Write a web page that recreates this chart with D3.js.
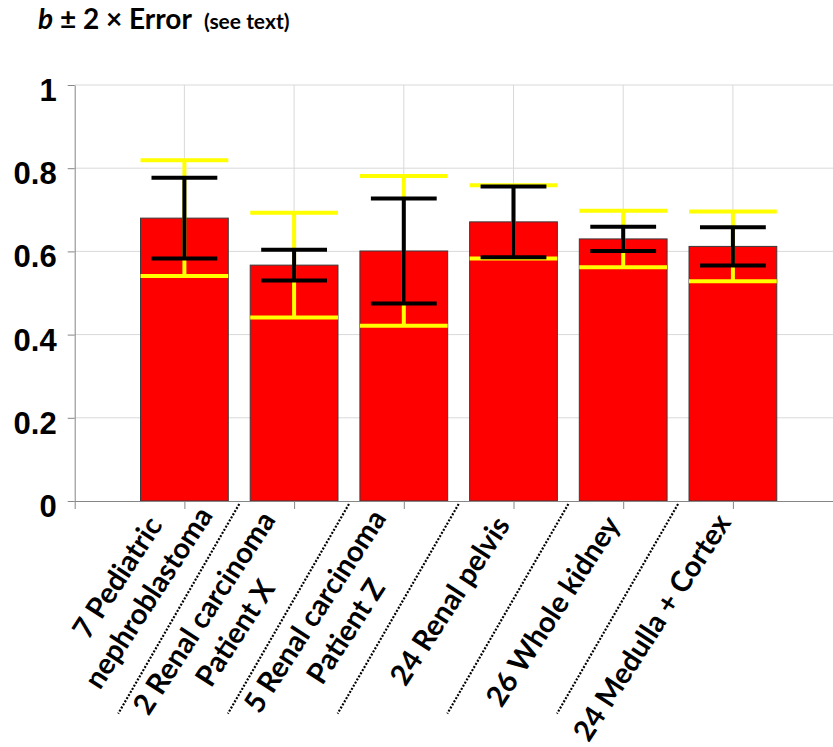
<!DOCTYPE html>
<html><head><meta charset="utf-8">
<script src="https://cdn.jsdelivr.net/npm/d3@7"></script>
<style>html,body{margin:0;padding:0;background:#fff;} svg{display:block}</style>
</head><body>
<svg id="chart" width="833" height="747"></svg>
<script>
// ---------- data ----------
const categories = [
  ["7 Pediatric", "nephroblastoma"],
  ["2 Renal carcinoma", "Patient X"],
  ["5 Renal carcinoma", "Patient Z"],
  ["24 Renal pelvis"],
  ["26 Whole kidney"],
  ["24 Medulla + Cortex"]
];
const bValues    = [0.680, 0.567, 0.601, 0.671, 0.630, 0.612];
const twoErrHalf = [0.139, 0.126, 0.180, 0.088, 0.068, 0.084];  // yellow: ± 2 × Error
const errHalf    = [0.097, 0.037, 0.126, 0.085, 0.029, 0.046];  // black bars
const yTicks      = [0, 0.2, 0.4, 0.6, 0.8, 1];
const yTickLabels = ["0", "0.2", "0.4", "0.6", "0.8", "1"];

// ---------- layout ----------
const plotLeft = 74.7, plotRight = 842.6, plotTop = 85, plotBottom = 501;
const labelAngle = -57;
const labelEndShift = [25, -4.5, -2.5, -0.5, 0, 2.5];
const gridColor = "#d9d9d9", axisColor = "#868686";

const svg = d3.select("#chart");
const x = d3.scaleLinear().domain([0, 7]).range([plotLeft, plotRight]);
const y = d3.scaleLinear().domain([0, 1]).range([plotBottom, plotTop]);
const idx = d3.range(categories.length);
const unit = x(1) - x(0);

// gridlines
svg.append("g").selectAll("line").data(yTicks.filter(d => d > 0)).join("line")
  .attr("x1", plotLeft).attr("x2", plotRight)
  .attr("y1", d => y(d)).attr("y2", d => y(d))
  .attr("stroke", gridColor).attr("stroke-width", 1);
svg.append("g").selectAll("line").data(idx).join("line")
  .attr("x1", i => x(i + 1)).attr("x2", i => x(i + 1))
  .attr("y1", y(1)).attr("y2", y(0))
  .attr("stroke", gridColor).attr("stroke-width", 1);

// bars
const bw = 0.8 * unit;
svg.append("g").selectAll("rect").data(idx).join("rect")
  .attr("x", i => x(i + 1) - bw / 2)
  .attr("width", bw)
  .attr("y", i => y(bValues[i]))
  .attr("height", i => y(0) - y(bValues[i]))
  .attr("fill", "#ff0000")
  .attr("stroke", "#3a3a3a").attr("stroke-width", 1);

// error bars
function errBars(half, color, capHalf, sw) {
  const g = svg.append("g").attr("stroke", color).attr("stroke-width", sw);
  g.selectAll("line.v").data(idx).join("line").attr("class", "v")
    .attr("x1", i => x(i + 1)).attr("x2", i => x(i + 1))
    .attr("y1", i => y(bValues[i] - half[i])).attr("y2", i => y(bValues[i] + half[i]));
  [-1, 1].forEach(s => {
    const cls = "c" + (s > 0 ? "t" : "b");
    g.selectAll("line." + cls).data(idx).join("line").attr("class", cls)
      .attr("x1", i => x(i + 1) - capHalf * unit).attr("x2", i => x(i + 1) + capHalf * unit)
      .attr("y1", i => y(bValues[i] + s * half[i])).attr("y2", i => y(bValues[i] + s * half[i]));
  });
}
errBars(twoErrHalf, "#ffff00", 0.4, 4);
errBars(errHalf, "#000000", 0.3, 4);

// y axis
const yAxis = svg.append("g").attr("transform", `translate(${plotLeft},0)`)
  .call(d3.axisLeft(y).tickValues(yTicks).tickFormat((d, i) => yTickLabels[i])
        .tickSize(7).tickSizeOuter(0).tickPadding(11));
yAxis.selectAll("path,line").attr("stroke", axisColor);
yAxis.selectAll("text").attr("dy", "0.5em")
  .style("font-family", "'Liberation Sans', Arial, sans-serif")
  .style("font-weight", "bold").style("font-size", "31px").attr("fill", "#000");

// x axis
const xAxis = svg.append("g").attr("transform", `translate(0,${plotBottom})`)
  .call(d3.axisBottom(x).tickValues(d3.range(0, 7)).tickFormat("")
        .tickSize(8).tickSizeOuter(0));
xAxis.selectAll("path,line").attr("stroke", axisColor);

// dotted separators
const sepLen = 242;
svg.append("g").selectAll("line").data(d3.range(1.5, 6, 1)).join("line")
  .attr("x1", d => x(d)).attr("y1", plotBottom + 3)
  .attr("x2", d => x(d) - sepLen * Math.cos(Math.PI / 3))
  .attr("y2", plotBottom + 3 + sepLen * Math.sin(Math.PI / 3))
  .attr("stroke", "#000").attr("stroke-width", 2.2).attr("stroke-dasharray", "2 1.6");

// category labels
const labelFont = "Lato, 'Open Sans', sans-serif";
const calib = [["nephroblastoma", 214], ["2 Renal carcinoma", 236], ["24 Renal pelvis", 193], ["24 Medulla + Cortex", 258]];
let measured = 0;
calib.forEach(([t]) => {
  const p = svg.append("text").text(t)
    .style("font-family", labelFont).style("font-weight", "bold").style("font-size", "29px");
  measured += p.node().getComputedTextLength();
  p.remove();
});
const labelSize = 29 * d3.sum(calib, c => c[1]) / measured;
const lineGap = 37, baseEnd = -21;
idx.forEach(i => {
  const g = svg.append("g").attr("transform", `translate(${x(i + 1)},${plotBottom}) rotate(${labelAngle})`);
  const lines = categories[i];
  const vc = 11 + (lines.length - 1) * 3;
  const ts = lines.map((t, j) => g.append("text").text(t)
    .attr("text-anchor", "middle")
    .style("font-family", labelFont).style("font-weight", "bold").style("font-size", labelSize + "px")
    .attr("fill", "#000")
    .attr("y", vc + (j - (lines.length - 1) / 2) * lineGap));
  const wmax = d3.max(ts, t => t.node().getComputedTextLength());
  const cu = baseEnd + labelEndShift[i] - wmax / 2;
  ts.forEach(t => t.attr("x", cu));
});

// title
const title = svg.append("text").attr("x", 38).attr("y", 29)
  .style("font-family", labelFont).style("font-weight", "bold").attr("fill", "#000");
title.append("tspan").text("b").style("font-style", "italic").style("font-size", "28px");
title.append("tspan").text(" ± 2 × Error").style("font-size", "28px");
svg.append("text").attr("x", 204).attr("y", 29).text("(see text)")
  .style("font-family", labelFont).style("font-weight", "bold").style("font-size", "21px").attr("fill", "#000");
</script>
</body></html>
